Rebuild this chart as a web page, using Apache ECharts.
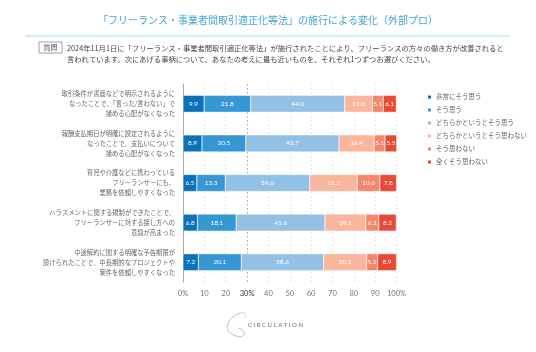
<!DOCTYPE html>
<html><head><meta charset="utf-8">
<script src="https://cdn.jsdelivr.net/npm/echarts@6/dist/echarts.min.js"></script>
<style>html,body{margin:0;padding:0;background:#fff}#c{width:536px;height:352px}</style>
</head><body><div id="c"></div>
<script>
const categories = [
  "取引条件が書面などで明示されるように\nなったことで、「言った/言わない」で\n揉める心配がなくなった",
  "報酬支払期日が明確に設定されるように\nなったことで、支払いについて\n揉める心配がなくなった",
  "育児や介護などに携わっている\nフリーランサーにも、\n業務を依頼しやすくなった",
  "ハラスメントに関する規制ができたことで、\nフリーランサーに対する接し方への\n意識が高まった",
  "中途解約に関する明確な予告期限が\n設けられたことで、中長期的なプロジェクトや\n案件を依頼しやすくなった"
];
const seriesNames = ["非常にそう思う","そう思う","どちらかというとそう思う","どちらかというとそう思わない","そう思わない","全くそう思わない"];
const s1 = [9.9, 8.9, 6.5, 6.8, 7.2];
const s2 = [21.8, 20.5, 13.3, 18.1, 20.1];
const s3 = [44.0, 43.7, 39.6, 41.6, 38.6];
const s4 = [13.0, 16.4, 22.2, 19.1, 20.1];
const s5 = [5.1, 5.1, 10.6, 6.1, 5.1];
const s6 = [6.1, 5.5, 7.8, 8.2, 8.9];
const xTicks = ["0%","10","20","30%","40","50","60","70","80","90","100%"];
const titleText = "「フリーランス・事業者間取引適正化等法」の施行による変化（外部プロ）";
const questionLabel = "質問";
const questionText = "2024年11月1日に「フリーランス・事業者間取引適正化等法」が施行されたことにより、フリーランスの方々の働き方が改善されると\n言われています。次にあげる事柄について、あなたの考えに最も近いものを、それぞれ1つずつお選びください。";
const logoText = "CIRCULATION";

const colors = ["#0b72b9","#3597d3","#93c0e5","#fbb59c","#f3876b","#e94a34"];
const values = [s1,s2,s3,s4,s5,s6];
const FONT = "'Noto Sans CJK JP', 'Noto Sans', sans-serif";

const chart = echarts.init(document.getElementById('c'), null, {renderer:'canvas'});
const splitColors = xTicks.map((t,i)=> i===3 ? '#8a8a8a' : '#d6d6d6');
chart.setOption({
  animation:false,
  color: colors,
  textStyle:{fontFamily:FONT},
  grid:{left:183, top:84, width:213.5, height:198, containLabel:false},
  legend:{
    orient:'vertical', left:421, top:88, itemWidth:5, itemHeight:5, itemGap:5,
    icon:'rect', data:seriesNames,
    textStyle:{fontSize:6.5, color:'#666', fontFamily:FONT, padding:[0,0,0,-1], lineHeight:8}
  },
  xAxis:{
    type:'value', min:0, max:100, interval:10,
    axisLine:{show:false},
    axisTick:{show:false},
    splitLine:{show:true, lineStyle:{type:[1.5,2.5], color:splitColors, width:0.8}},
    axisLabel:{fontSize:7.5, color:'#777', margin:8, fontFamily:"'Lato','Noto Sans',sans-serif",
      formatter:(v)=>{const i=Math.round(v/10); return i===3 ? '{d|'+xTicks[i]+'}' : xTicks[i];},
      rich:{d:{fontSize:7.5, color:'#333', fontFamily:"'Lato','Noto Sans',sans-serif"}}
    }
  },
  yAxis:{
    type:'category', data:categories, inverse:true,
    axisLine:{show:true, lineStyle:{color:'#aaa', width:1}},
    axisTick:{show:false},
    axisLabel:{fontSize:6.3, color:'#666', lineHeight:10, margin:8, align:'right', fontFamily:FONT}
  },
  series: seriesNames.map((n,i)=>({
    name:n, type:'bar', stack:'all', data:values[i], barWidth:17,
    itemStyle:{borderColor:'#fff', borderWidth:0.4},
    label:{show:true, position:'inside', color:'#fff', fontSize:6.5,
      fontFamily:"'Lato','Noto Sans',sans-serif", formatter:(p)=>p.value.toFixed(1)}
  })),
  graphic:[
    {type:'text', left:'center', top:15, style:{text:titleText, fontSize:10, fill:'#3ea6da', fontFamily:FONT}},
    {type:'line', shape:{x1:25,y1:36,x2:510,y2:36}, style:{stroke:'#a9d8ef', lineWidth:1}},
    {type:'rect', shape:{x:39,y:42,width:23,height:11}, style:{fill:'#fff', stroke:'#888', lineWidth:0.8}},
    {type:'text', x:50.5, y:47.5, style:{text:questionLabel, fontSize:7, fill:'#555', align:'center', verticalAlign:'middle', fontFamily:FONT}},
    {type:'text', x:67, y:43, style:{text:questionText, fontSize:7.3, lineHeight:11, fill:'#444', fontFamily:FONT}},
    {type:'bezierCurve', shape:{x1:240,y1:313,cpx1:226,cpy1:318,cpx2:222,cpy2:332,x2:236,y2:336}, style:{stroke:'#999', lineWidth:0.6, fill:null}},
    {type:'bezierCurve', shape:{x1:236,y1:336,cpx1:246,cpy1:339,cpx2:247,cpy2:330,x2:238,y2:328}, style:{stroke:'#999', lineWidth:0.6, fill:null}},
    {type:'bezierCurve', shape:{x1:240,y1:313,cpx1:244,cpy1:311,cpx2:248,cpy2:315,x2:244,y2:318}, style:{stroke:'#7cc1e8', lineWidth:0.6, fill:null}},
    {type:'text', x:248, y:325, style:{text:logoText.split('').join(' '), fontSize:6, fill:'#666', verticalAlign:'middle', fontFamily:"'Lato',sans-serif"}}
  ]
});
</script></body></html>
